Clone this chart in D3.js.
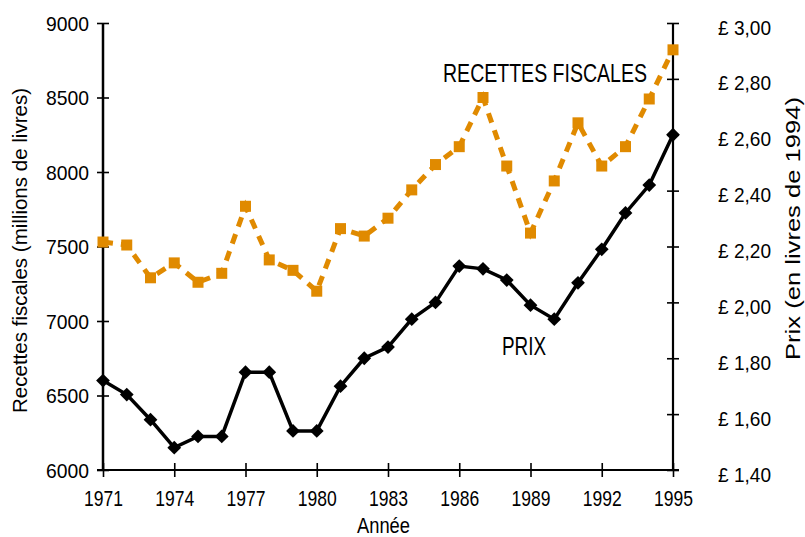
<!DOCTYPE html>
<html>
<head>
<meta charset="utf-8">
<script src="https://cdn.jsdelivr.net/npm/d3@7"></script>
<style>
  body { margin: 0; background: #fff; }
  text { font-family: "Liberation Sans", Arial, sans-serif; fill: #000; }
</style>
</head>
<body>
<div id="chart"></div>
<script>
// data
var years = [1971, 1972, 1973, 1974, 1975, 1976, 1977, 1978, 1979, 1980, 1981, 1982,
  1983, 1984, 1985, 1986, 1987, 1988, 1989, 1990, 1991, 1992, 1993, 1994, 1995];
var recettes = [7530, 7510, 7290, 7390, 7260, 7320, 7770, 7410, 7340, 7200, 7620, 7570,
  7690, 7880, 8050, 8170, 8500, 8040, 7590, 7940, 8330, 8040, 8170, 8490, 8820];
var prix = [1.72, 1.67, 1.58, 1.48, 1.52, 1.52, 1.75, 1.75, 1.54, 1.54, 1.70, 1.80,
  1.84, 1.94, 2.00, 2.13, 2.12, 2.08, 1.99, 1.94, 2.07, 2.19, 2.32, 2.42, 2.60];
var xTicks = [1971, 1974, 1977, 1980, 1983, 1986, 1989, 1992, 1995];
var leftTicks = [6000, 6500, 7000, 7500, 8000, 8500, 9000];
var rightTicks = [1.4, 1.6, 1.8, 2.0, 2.2, 2.4, 2.6, 2.8, 3.0];

var g = {};
g.fullWidth = 805;
g.fullHeight = 537;
g.margin = {top: 23, right: 132, bottom: 67, left: 103};
g.width = g.fullWidth - g.margin.left - g.margin.right;
g.height = g.fullHeight - g.margin.top - g.margin.bottom;

g.x = d3.scaleLinear().range([0, g.width]).domain([1971, 1995]);
g.yL = d3.scaleLinear().range([g.height, 0]).domain([6000, 9000]);
g.yR = d3.scaleLinear().range([g.height, 0]).domain([1.4, 3.0]);

var svg = d3.select("#chart")
  .append("svg")
    .attr("width", g.fullWidth)
    .attr("height", g.fullHeight)
  .append("g")
    .attr("transform", "translate(" + g.margin.left + "," + g.margin.top + ")");

var fmtPrix = function(d) { return "\u00a3 " + d.toFixed(2).replace(".", ","); };

// axes
g.xAxis = d3.axisBottom(g.x).tickValues(xTicks).tickFormat(d3.format("d")).tickSize(7);
g.yAxisL = d3.axisLeft(g.yL).tickValues(leftTicks).tickFormat(d3.format("d")).tickSize(6);
g.yAxisR = d3.axisRight(g.yR).tickValues(rightTicks).tickFormat(fmtPrix).tickSize(6);

var ax = svg.append("g")
  .attr("class", "x axis")
  .attr("transform", "translate(0," + g.height + ")")
  .call(g.xAxis);
ax.selectAll(".tick line").attr("y1", -7).attr("y2", 7);
ax.selectAll(".tick text").attr("y", 36).attr("dy", null)
  .style("font-size", "22px")
  .attr("textLength", 39).attr("lengthAdjust", "spacingAndGlyphs");

var ayl = svg.append("g")
  .attr("class", "y axis")
  .call(g.yAxisL);
ayl.selectAll(".tick line").attr("x1", -6).attr("x2", 6);
ayl.selectAll(".tick text").attr("x", -14).attr("dy", "0.35em")
  .style("font-size", "21px")
  .attr("textLength", 43).attr("lengthAdjust", "spacingAndGlyphs");

var ayr = svg.append("g")
  .attr("class", "y axis")
  .attr("transform", "translate(" + g.width + ",0)")
  .call(g.yAxisR);
ayr.selectAll(".tick line").attr("x1", -6).attr("x2", 6);
ayr.selectAll(".tick text").attr("x", 45).attr("y", 11).attr("dy", null)
  .style("font-size", "21px")
  .attr("textLength", 53).attr("lengthAdjust", "spacingAndGlyphs");

svg.selectAll(".axis path.domain").remove();
svg.selectAll(".axis .tick line").attr("stroke", "#000").attr("stroke-width", 1.6);

// axis lines
svg.append("line").attr("x1", 0).attr("x2", 0).attr("y1", 0).attr("y2", g.height)
  .attr("stroke", "#000").attr("stroke-width", 2.5);
svg.append("line").attr("x1", g.width).attr("x2", g.width).attr("y1", 0).attr("y2", g.height)
  .attr("stroke", "#000").attr("stroke-width", 2.2);
svg.append("line").attr("x1", -6).attr("x2", g.width + 6).attr("y1", g.height).attr("y2", g.height)
  .attr("stroke", "#000").attr("stroke-width", 2.2);

// recettes line (dashed orange)
var orange = "#e08a00";
var lineR = d3.line()
  .x(function(d, i) { return g.x(years[i]); })
  .y(function(d) { return g.yL(d); });
svg.append("path")
  .attr("d", lineR(recettes))
  .attr("fill", "none")
  .attr("stroke", orange)
  .attr("stroke-width", 5)
  .style("stroke-dasharray", ("10, 8"));
svg.append("g").selectAll("rect").data(recettes).enter()
  .append("rect")
  .attr("x", function(d, i) { return g.x(years[i]) - 5.5; })
  .attr("y", function(d) { return g.yL(d) - 5.5; })
  .attr("width", 11)
  .attr("height", 11)
  .attr("fill", orange);

// prix line (black)
var lineP = d3.line()
  .x(function(d, i) { return g.x(years[i]); })
  .y(function(d) { return g.yR(d); });
svg.append("path")
  .attr("d", lineP(prix))
  .attr("fill", "none")
  .attr("stroke", "#000")
  .attr("stroke-width", 3.5);
svg.append("g").selectAll("path").data(prix).enter()
  .append("path")
  .attr("d", d3.symbol().type(d3.symbolSquare).size(95))
  .attr("transform", function(d, i) {
    return "translate(" + g.x(years[i]) + "," + g.yR(d) + ") rotate(45)";
  })
  .attr("fill", "#000");

// labels
svg.append("text")
  .attr("x", 443 - g.margin.left)
  .attr("y", 82 - g.margin.top)
  .style("font-size", "25px")
  .attr("textLength", 204).attr("lengthAdjust", "spacingAndGlyphs")
  .text("RECETTES FISCALES");
svg.append("text")
  .attr("x", 502 - g.margin.left)
  .attr("y", 355 - g.margin.top)
  .style("font-size", "25px")
  .attr("textLength", 44).attr("lengthAdjust", "spacingAndGlyphs")
  .text("PRIX");

svg.append("text")
  .attr("x", 357 - g.margin.left)
  .attr("y", 533 - g.margin.top)
  .style("font-size", "22px")
  .attr("textLength", 53).attr("lengthAdjust", "spacingAndGlyphs")
  .text("Ann\u00e9e");
svg.append("text")
  .attr("transform", "translate(" + (27 - g.margin.left) + "," + (413 - g.margin.top) + ") rotate(-90)")
  .style("font-size", "21px")
  .attr("textLength", 325).attr("lengthAdjust", "spacingAndGlyphs")
  .text("Recettes fiscales (millions de livres)");
svg.append("text")
  .attr("transform", "translate(" + (800 - g.margin.left) + "," + (360 - g.margin.top) + ") rotate(-90)")
  .style("font-size", "20px")
  .attr("textLength", 263).attr("lengthAdjust", "spacingAndGlyphs")
  .text("Prix (en livres de 1994)");
</script>
</body>
</html>
